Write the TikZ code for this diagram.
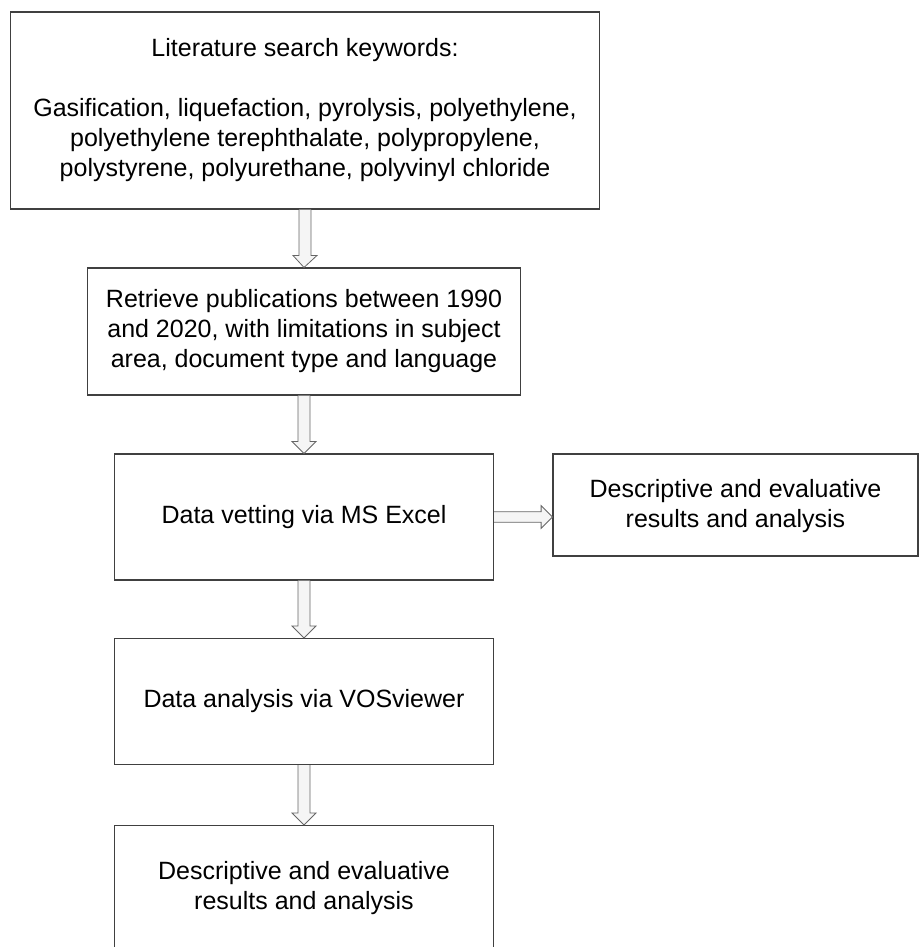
\documentclass[tikz,border=0pt]{standalone}
\usepackage{fontspec}
\setmainfont{Liberation Sans}
\usetikzlibrary{calc}
\usetikzlibrary{positioning}
\tikzset{x=0.75pt, y=-0.75pt,
    every node/.style={
        font=\fontsize{18.75}{22.5}\selectfont,
        align=center},
    stage/.style={
        draw=black!75,
        line width=0.8pt,
        inner sep=0pt,
        minimum width=284.25pt,
        minimum height=94.5pt},
    blockarrow/.style={
        draw=black!60,
        fill=gray!8,
        line width=0.6pt,
        line join=miter}}
\newcommand{\blockdown}[2]{%
    \draw[blockarrow] let \p1=(#1.south), \p2=(#2.north) in
        (\x1-4.5pt,\y1) -- (\x1-4.5pt,\y2+9pt) -- (\x1-9pt,\y2+9pt) -- (\x2,\y2)
        -- (\x1+9pt,\y2+9pt) -- (\x1+4.5pt,\y2+9pt) -- (\x1+4.5pt,\y1);}
\newcommand{\blockright}[2]{%
    \draw[blockarrow] let \p1=(#1.east), \p2=(#2.west) in
        (\x1,\y1+4pt) -- (\x2-8.5pt,\y1+4pt) -- (\x2-8.5pt,\y1+8.5pt) -- (\x2,\y1)
        -- (\x2-8.5pt,\y1-8.5pt) -- (\x2-8.5pt,\y1-4pt) -- (\x1,\y1-4pt);}

\begin{document}
\begin{tikzpicture}
        \useasboundingbox (0,0) rectangle (919,947);

        \node[stage,minimum width=441.75pt,minimum height=147.75pt] (keywords) at (305,110.5)
            {Literature search keywords:\\[22.5pt]
             Gasification, liquefaction, pyrolysis, polyethylene,\\
             polyethylene terephthalate, polypropylene,\\
             polystyrene, polyurethane, polyvinyl chloride};
        \node[stage,minimum width=324.75pt,minimum height=95.25pt] (retrieve) at (304,331.5)
            {Retrieve publications between 1990\\
             and 2020, with limitations in subject\\
             area, document type and language};
        \node[stage] (vetting) at (304,517) {Data vetting via MS Excel};
        \node[stage,minimum width=273.75pt,minimum height=76.5pt] (results1) at (735.5,505)
            {\raisebox{-5pt}[0pt][0pt]{\parbox{260pt}{\centering
             Descriptive and evaluative\\ results and analysis}}};
        \node[stage] (vosviewer) at (304,701.5) {Data analysis via VOSviewer};
        \node[stage] (results2) at (304,888.5)
            {Descriptive and evaluative\\ results and analysis};

        \blockdown{keywords}{retrieve}
        \blockdown{retrieve}{vetting}
        \blockright{vetting}{results1}
        \blockdown{vetting}{vosviewer}
        \blockdown{vosviewer}{results2}
    \end{tikzpicture}
\end{document}
